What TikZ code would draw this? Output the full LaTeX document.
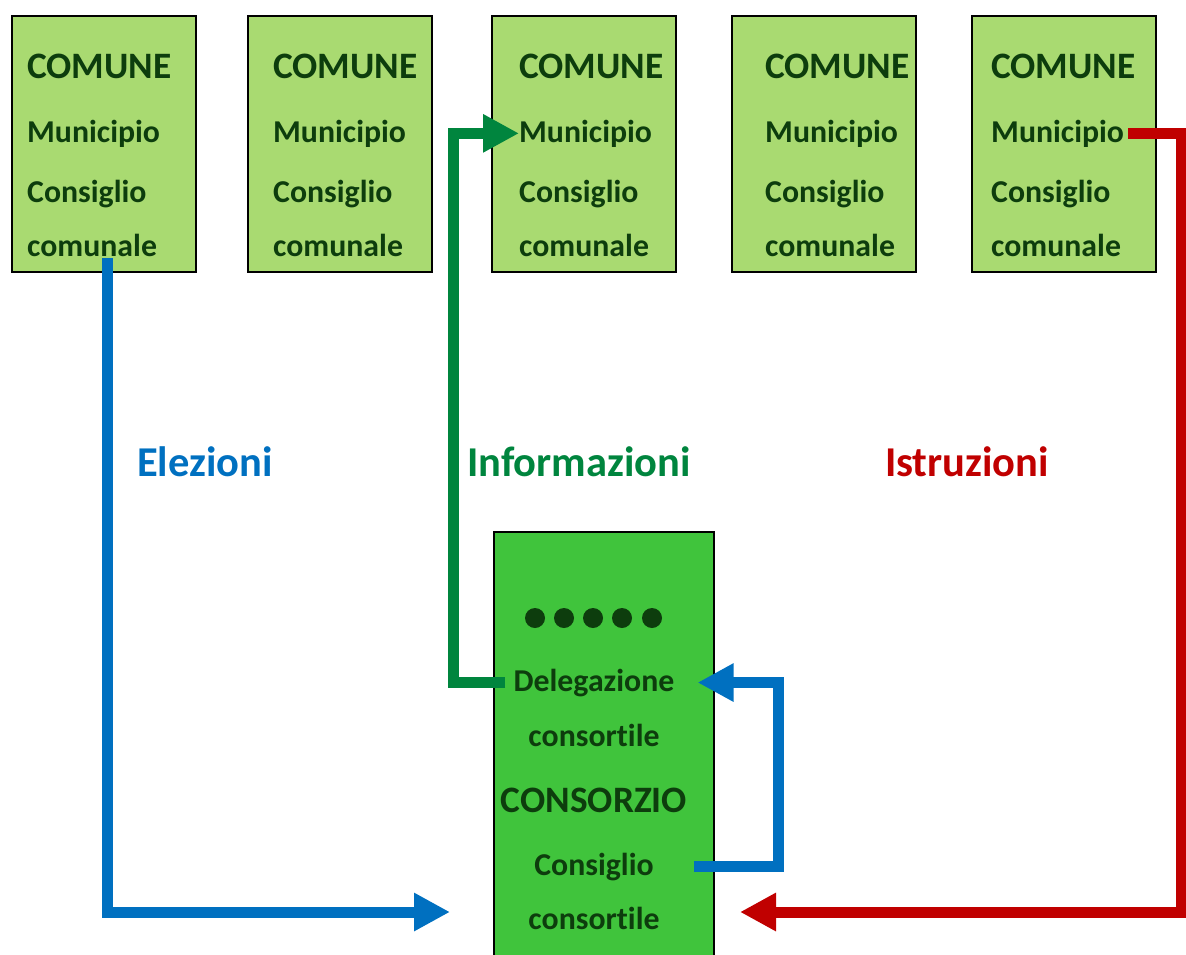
\documentclass[tikz,border=0pt]{standalone}
\usepackage{fontspec}
\setmainfont{Carlito}[Ligatures=NoCommon]
\usepackage{xcolor}
\usetikzlibrary{arrows.meta,positioning}
\definecolor{comunefill}{HTML}{A9DA71}
\definecolor{consorziofill}{HTML}{40C43C}
\definecolor{darktext}{HTML}{0D3D0D}
\definecolor{elezblue}{HTML}{0070C0}
\definecolor{infogreen}{HTML}{00853E}
\definecolor{istrred}{HTML}{C00000}
\tikzset{
    comune box/.style={
        draw=black,
        line width=1.5pt,
        fill=comunefill,
        minimum width=184pt,
        minimum height=256pt,
        inner sep=0pt,
        anchor=north west
    },
    consorzio box/.style={
        comune box,
        fill=consorziofill,
        minimum width=220pt,
        minimum height=430pt
    },
    box text/.style={
        font=\bfseries\fontsize{31.8}{34}\selectfont,
        text=darktext,
        inner sep=0pt,
        anchor=base west
    },
    title text/.style={
        box text,
        font=\bfseries\fontsize{37.3}{39}\selectfont
    },
    flow label/.style={
        font=\bfseries\fontsize{42.5}{44}\selectfont,
        inner sep=0pt
    },
    flow/.style={
        line width=11pt,
        -{Triangle[length=36pt,width=36pt]}
    }
}
\begin{document}
\begin{tikzpicture}[x=1pt,y=-1pt]
\useasboundingbox (0,0) rectangle (1186,954);
% comuni
\foreach \i/\bx/\tx in {1/11/27,2/247/273,3/491/519,4/731/765,5/971/991}{
    \node[comune box] (box\i) at (\bx,15) {};
    \node[title text] (title\i) at (\tx,78) {COMUNE};
    \node[box text] (mun\i) at (\tx,142) {Municipio};
    \node[box text] (cons\i) at (\tx,202) {Consiglio};
    \node[box text] (com\i) at (\tx,256) {comunale};
}
% consorzio
\node[consorzio box] (consorzio) at (493,531) {};
\foreach \x in {535,564,593,622,652}
    \fill[darktext] (\x,618) circle (10pt);
\node[box text,anchor=base] (deleg) at (594,691) {Delegazione};
\node[box text,anchor=base] (delegb) at (594,746) {consortile};
\node[title text,anchor=base] (cztitle) at (594,812) {CONSORZIO};
\node[box text,anchor=base] (consig) at (594,875) {Consiglio};
\node[box text,anchor=base] (consigb) at (594,929) {consortile};
% etichette
\node[flow label,text=elezblue] (elezioni) at (205,462) {Elezioni};
\node[flow label,text=infogreen] (informazioni) at (579,462) {Informazioni};
\node[flow label,text=istrred] (istruzioni) at (967,462) {Istruzioni};
% frecce
\coordinate (elez start) at (107,258);
\coordinate (elez end) at (450,912);
\coordinate (istr end) at (740,912);
\draw[flow,elezblue] (elez start) |- (elez end);
\draw[flow,infogreen] ([xshift=-8pt]deleg.west) -- ++(-52,0) |- (mun3.west);
\draw[flow,istrred] ([xshift=4pt]mun5.east) -- ++(53,0) |- (istr end);
\draw[flow,elezblue] ([xshift=40pt]consig.east) -- ++(85,0) |- ([xshift=23pt]deleg.east);
\end{tikzpicture}
\end{document}
